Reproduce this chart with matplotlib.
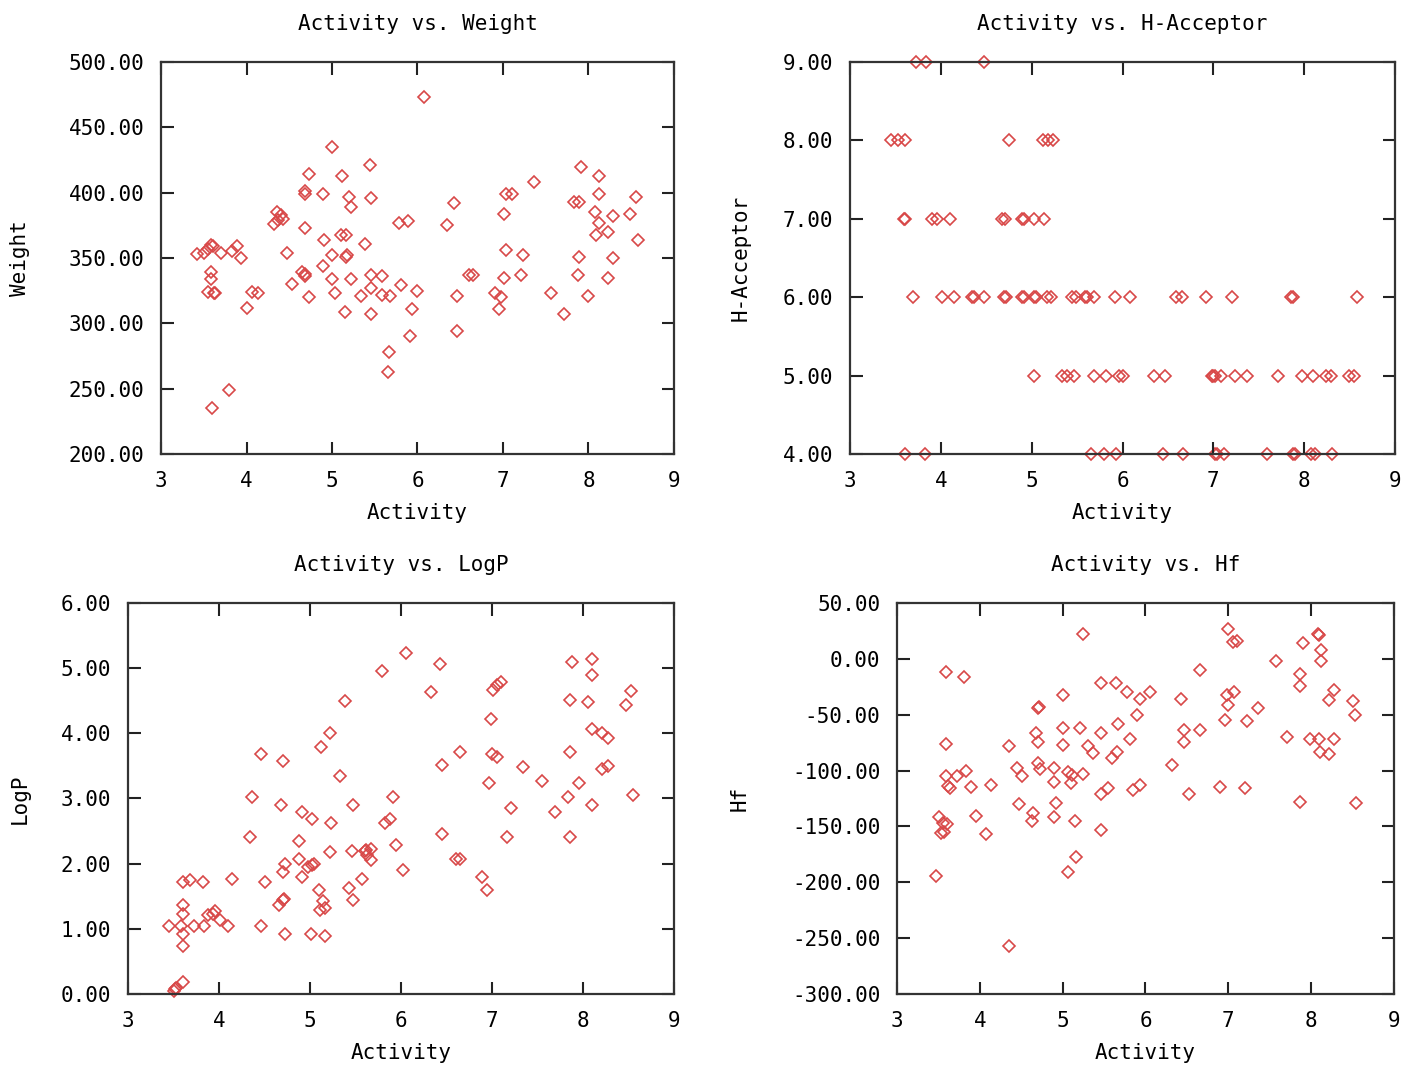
import matplotlib
matplotlib.use("Agg")
import matplotlib.pyplot as plt
from matplotlib.ticker import FormatStrFormatter, MultipleLocator

plt.rcParams['font.family'] = ['DejaVu Sans Mono']
plt.rcParams['font.size'] = 15

# Activity vs. Weight
act_w = [6.08, 5.00, 5.44, 4.73, 5.12, 7.91, 8.12, 7.36, 4.68, 4.68, 4.89, 5.20, 5.46,
         7.04, 7.10, 8.12, 8.55, 6.43, 7.83, 7.89, 5.22, 4.36, 4.40, 4.43, 4.32, 4.37,
         7.01, 8.08, 8.49, 5.78, 5.89, 6.34, 8.12, 8.29, 4.69, 5.10, 5.16, 8.23, 8.09,
         4.91, 8.58, 5.39, 3.59, 3.61, 3.55, 3.50, 3.42, 3.70, 3.83, 3.89, 3.94, 4.47,
         5.00, 5.16, 5.18, 7.04, 7.23, 7.89, 8.29, 3.59, 3.59, 3.55, 3.63, 4.06, 4.14,
         4.00, 4.53, 4.65, 4.69, 4.69, 4.89, 4.73, 5.00, 5.04, 5.22, 5.34, 5.15, 5.46,
         5.46, 5.58, 5.46, 5.59, 5.68, 5.81, 5.99, 5.94, 5.91, 5.67, 5.65, 6.46, 6.46,
         6.60, 6.65, 6.91, 6.98, 6.95, 7.01, 7.21, 7.56, 7.71, 7.88, 7.99, 8.23, 3.80,
         3.60, 3.62]
weight = [473, 435, 421, 414, 413, 420, 413, 408, 401, 399, 399, 397, 396,
          399, 399, 399, 397, 392, 393, 393, 389, 385, 383, 380, 376, 379,
          384, 385, 384, 377, 378, 375, 377, 382, 373, 368, 368, 370, 368,
          364, 364, 361, 360, 359, 357, 354, 353, 354, 355, 359, 350, 354,
          352, 351, 352, 356, 352, 351, 350, 339, 334, 324, 323, 324, 323,
          312, 330, 339, 336, 338, 344, 320, 334, 323, 334, 321, 309, 307,
          337, 336, 327, 322, 321, 329, 325, 311, 290, 278, 263, 321, 294,
          337, 337, 323, 320, 311, 335, 337, 323, 307, 337, 321, 335, 249,
          235, 323]

# Activity vs. H-Acceptor
act_h = [3.73, 3.84, 4.47,
         3.45, 3.53, 3.61, 4.75, 5.12, 5.18, 5.24,
         3.59, 3.61, 3.90, 3.96, 4.10, 4.67, 4.71, 4.89, 4.91, 5.02, 5.14,
         3.69, 4.01, 4.15, 4.34, 4.36, 4.48, 4.70, 4.72, 4.89, 4.91, 5.02, 5.05, 5.17,
         5.21, 5.44, 5.49, 5.59, 5.61, 5.69, 5.92, 6.08, 6.59, 6.66, 6.92, 7.20, 7.86,
         7.88, 8.58,
         5.02, 5.33, 5.39, 5.47, 5.69, 5.82, 5.96, 6.01, 6.35, 6.47, 6.98, 7.00, 7.02,
         7.08, 7.24, 7.37, 7.71, 7.98, 8.10, 8.24, 8.30, 8.49, 8.55,
         3.60, 3.82, 5.65, 5.80, 5.93, 6.45, 6.67, 7.02, 7.04, 7.12, 7.59, 7.88, 7.90,
         8.08, 8.12, 8.31]
h_acceptor = [9, 9, 9,
              8, 8, 8, 8, 8, 8, 8,
              7, 7, 7, 7, 7, 7, 7, 7, 7, 7, 7,
              6, 6, 6, 6, 6, 6, 6, 6, 6, 6, 6, 6, 6,
              6, 6, 6, 6, 6, 6, 6, 6, 6, 6, 6, 6, 6,
              6, 6,
              5, 5, 5, 5, 5, 5, 5, 5, 5, 5, 5, 5, 5,
              5, 5, 5, 5, 5, 5, 5, 5, 5, 5,
              4, 4, 4, 4, 4, 4, 4, 4, 4, 4, 4, 4, 4,
              4, 4, 4]

# Activity vs. LogP
act_p = [6.06, 5.79, 6.43, 6.33, 5.39, 7.88, 8.10, 8.10, 7.10, 7.05, 7.01, 8.53, 7.86,
         8.05, 8.47, 6.99, 5.22, 5.12, 8.10, 8.21, 8.28, 4.46, 4.70, 6.65, 7.00, 7.05,
         7.86, 6.45, 7.34, 8.21, 8.28, 5.33, 7.55, 6.97, 7.96, 4.36, 5.91, 8.55, 4.68,
         5.47, 7.21, 7.84, 8.10, 7.69, 4.91, 5.02, 5.23, 5.82, 5.88, 4.34, 4.88, 6.45,
         7.17, 7.86, 5.94, 5.22, 5.46, 5.60, 5.62, 5.67, 5.63, 5.67, 4.88, 5.02, 5.04,
         4.72, 4.98, 6.02, 6.60, 6.65, 4.70, 4.91, 5.57, 6.89, 6.95, 3.60, 3.68, 3.82,
         4.14, 4.51, 5.10, 5.43, 5.47, 5.14, 4.70, 4.71, 4.66, 3.60, 3.60, 3.88, 3.96,
         3.93, 4.01, 4.10, 3.45, 3.58, 3.72, 3.84, 3.60, 3.60, 4.46, 4.72, 5.01, 5.17,
         5.11, 5.16, 3.60, 3.53, 3.52, 3.51]
logp = [5.23, 4.96, 5.07, 4.63, 4.50, 5.10, 5.14, 4.89, 4.79, 4.74, 4.67, 4.65, 4.51,
        4.48, 4.44, 4.22, 4.00, 3.79, 4.07, 4.01, 3.93, 3.69, 3.58, 3.72, 3.68, 3.64,
        3.72, 3.51, 3.48, 3.45, 3.50, 3.34, 3.27, 3.24, 3.24, 3.03, 3.03, 3.06, 2.90,
        2.90, 2.86, 3.03, 2.90, 2.79, 2.79, 2.68, 2.62, 2.62, 2.69, 2.41, 2.34, 2.45,
        2.41, 2.41, 2.28, 2.18, 2.19, 2.19, 2.21, 2.22, 2.13, 2.06, 2.07, 1.98, 2.00,
        2.00, 1.95, 1.90, 2.07, 2.07, 1.87, 1.79, 1.77, 1.79, 1.59, 1.72, 1.75, 1.72,
        1.76, 1.72, 1.59, 1.62, 1.44, 1.42, 1.44, 1.46, 1.37, 1.37, 1.23, 1.21, 1.28,
        1.23, 1.14, 1.04, 1.04, 1.04, 1.04, 1.04, 0.92, 0.73, 1.04, 0.92, 0.92, 0.89,
        1.29, 1.32, 0.19, 0.09, 0.07, 0.04]

# Activity vs. Hf
act_f = [5.25, 7.00, 7.06, 7.10, 8.08, 8.10, 8.12, 7.90, 8.12, 7.57, 3.59, 3.81, 6.66,
         7.87, 7.87, 5.46, 5.65, 5.78, 5.93, 6.06, 5.00, 6.43, 6.98, 7.07, 7.00, 7.36,
         8.28, 8.22, 8.50, 8.53, 4.70, 4.72, 5.90, 6.96, 7.22, 3.59, 4.35, 4.68, 4.70,
         5.00, 5.00, 5.21, 5.46, 5.67, 5.81, 5.31, 5.37, 5.59, 5.66, 6.46, 6.46, 6.66,
         7.71, 7.98, 8.10, 8.28, 8.11, 8.22, 6.32, 3.59, 3.62, 3.64, 3.73, 3.83, 3.89,
         4.14, 4.45, 4.51, 4.47, 4.70, 4.73, 4.89, 4.89, 4.92, 4.89, 5.06, 5.11, 5.10,
         5.25, 5.15, 5.16, 5.07, 4.64, 4.63, 5.46, 5.55, 5.46, 5.85, 5.93, 6.90, 7.20,
         6.52, 7.86, 8.54, 3.95, 4.08, 3.51, 3.55, 3.57, 3.60, 3.53, 3.47, 4.35]
hf = [22, 26.5, 15, 16, 22, 21, 8, 14, -2, -2, -12, -16, -10,
      -14, -24, -22, -22, -30, -36, -30, -32, -36, -32, -30, -41, -44,
      -28, -37, -38, -50, -44, -43, -50, -55, -56, -76, -78, -66, -74,
      -62, -77, -62, -66, -58, -72, -78, -84, -89, -83, -64, -74, -64,
      -70, -72, -72, -72, -83, -85, -95, -105, -114, -116, -105, -100, -115,
      -113, -98, -105, -130, -93, -99, -98, -110, -129, -142, -101, -104, -111,
      -103, -145, -177, -191, -138, -145, -121, -116, -153, -117, -113, -115, -116,
      -121, -128, -129, -141, -157, -142, -147, -155, -148, -156, -194, -257]

# data, name, y range, y step, axes rect, y-label x position (axes coords)
panels = [
    (act_w, weight, "Weight", (200, 500), 50, [0.1146, 0.5749, 0.3651, 0.3670], -0.255),
    (act_h, h_acceptor, "H-Acceptor", (4, 9), 1, [0.6050, 0.5749, 0.3879, 0.3670], -0.183),
    (act_p, logp, "LogP", (0, 6), 1, [0.0911, 0.0693, 0.3886, 0.3661], -0.18),
    (act_f, hf, "Hf", (-300, 50), 50, [0.6384, 0.0693, 0.3538, 0.3661], -0.296),
]

fig = plt.figure(figsize=(14.05, 10.68), dpi=100)

for xs, ys, name, ylim, step, rect, lx in panels:
    ax = fig.add_axes(rect)
    ax.plot(xs, ys, linestyle='none', marker='D', ms=6.5, mfc='none',
            mec='#d84848', mew=1.2, clip_on=False, zorder=1)
    ax.set_xlim(3, 9)
    ax.set_ylim(*ylim)
    ax.xaxis.set_major_locator(MultipleLocator(1))
    ax.yaxis.set_major_locator(MultipleLocator(step))
    ax.yaxis.set_major_formatter(FormatStrFormatter('%.2f'))
    ax.tick_params(direction='in', length=9, width=1.5, top=True, right=True,
                   colors='#222222', labelcolor='black', pad=12, labelsize=15)
    for sp in ax.spines.values():
        sp.set_linewidth(1.6)
        sp.set_color('#333333')
        sp.set_zorder(2)
    ax.set_title("Activity vs. " + name, pad=23, fontsize=15)
    ax.set_xlabel("Activity", labelpad=9)
    ax.set_ylabel(name)
    ax.yaxis.set_label_coords(lx, 0.5)

fig.savefig("out.png", dpi=100)
